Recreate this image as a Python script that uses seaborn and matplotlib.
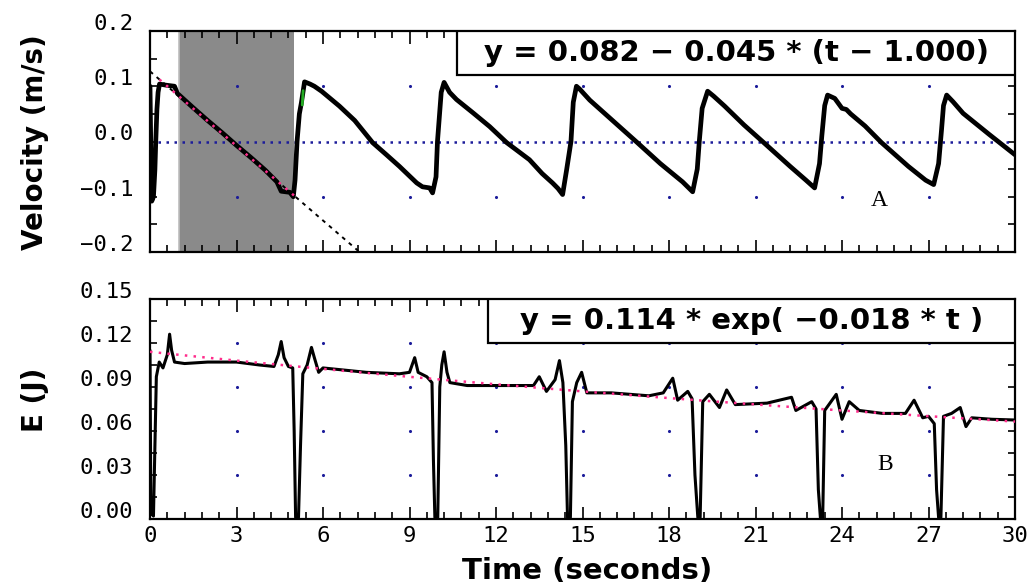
import numpy as np
import pandas as pd
import matplotlib
matplotlib.use("Agg")
import matplotlib.pyplot as plt
import matplotlib.transforms as mtransforms
from matplotlib.ticker import MultipleLocator, NullFormatter
from matplotlib.patches import Rectangle
import seaborn as sns

# ---------------- data ----------------
vel_t = [0.00, 0.03, 0.06, 0.12, 0.17, 0.20, 0.24, 0.28, 0.33, 0.55, 0.85, 0.95,
         1.50, 2.00, 2.50, 3.00, 3.50, 4.00, 4.40, 4.55, 4.85, 4.97,
         5.03, 5.10, 5.18, 5.25, 5.36, 5.55, 5.70, 5.95, 6.57, 7.10, 7.72, 8.20,
         8.65, 9.25, 9.45, 9.70, 9.80, 9.92, 9.97, 10.10, 10.20, 10.39, 10.63,
         11.20, 11.78, 12.37, 13.16, 13.60, 13.96, 14.15, 14.31, 14.45, 14.60,
         14.68, 14.79, 14.90, 15.25, 16.00, 16.90, 17.70, 18.47, 18.82, 18.98,
         19.05, 19.15, 19.34, 19.55, 19.93, 20.60, 21.35, 22.20, 22.75, 23.05,
         23.22, 23.30, 23.40, 23.50, 23.75, 24.00, 24.15, 24.30, 24.80, 25.37,
         26.30, 26.90, 27.18, 27.35, 27.45, 27.52, 27.63, 27.85, 28.20, 29.10, 30.00]
vel_v = [0.100, -0.020, -0.108, -0.100, -0.051, 0.000, 0.058, 0.089, 0.104, 0.102, 0.100, 0.087,
         0.061, 0.038, 0.016, -0.007, -0.029, -0.052, -0.073, -0.090, -0.092, -0.100,
         -0.070, 0.000, 0.050, 0.070, 0.108, 0.104, 0.100, 0.091, 0.064, 0.038, -0.002, -0.024,
         -0.045, -0.075, -0.082, -0.084, -0.093, -0.064, 0.000, 0.089, 0.107, 0.089, 0.076,
         0.052, 0.027, -0.002, -0.033, -0.058, -0.075, -0.085, -0.096, -0.051, 0.000,
         0.071, 0.100, 0.095, 0.075, 0.040, -0.002, -0.040, -0.073, -0.091, -0.050,
         0.000, 0.060, 0.091, 0.082, 0.064, 0.030, -0.005, -0.045, -0.070, -0.084,
         -0.040, 0.010, 0.065, 0.084, 0.078, 0.060, 0.058, 0.050, 0.028, -0.002,
         -0.045, -0.070, -0.078, -0.040, 0.020, 0.065, 0.084, 0.072, 0.051, 0.013, -0.024]

energy_t = [0.00, 0.03, 0.12, 0.22, 0.32, 0.45, 0.60, 0.68, 0.75, 0.85, 1.20, 2.00, 3.00,
            3.80, 4.30, 4.45, 4.55, 4.65, 4.80, 4.95, 5.00, 5.05, 5.15, 5.22, 5.30, 5.45,
            5.60, 5.70, 5.85, 6.00, 6.50, 7.50, 8.65, 9.00, 9.18, 9.30, 9.60, 9.78, 9.83,
            9.88, 9.98, 10.05, 10.12, 10.20, 10.30, 10.40, 11.00, 12.50, 13.30, 13.50,
            13.75, 14.05, 14.20, 14.32, 14.42, 14.48, 14.58, 14.65, 14.80, 14.97, 15.15,
            16.00, 17.30, 17.80, 18.13, 18.30, 18.65, 18.80, 18.90, 19.00, 19.08, 19.17,
            19.40, 19.75, 20.00, 20.30, 21.40, 22.25, 22.40, 22.95, 23.10, 23.18, 23.25,
            23.33, 23.40, 23.80, 24.00, 24.25, 24.60, 25.40, 26.20, 26.50, 26.80, 27.00,
            27.20, 27.28, 27.35, 27.43, 27.52, 27.80, 28.10, 28.30, 28.50, 29.20, 30.00]
energy_e = [0.115, 0.004, 0.002, 0.097, 0.107, 0.103, 0.112, 0.126, 0.115, 0.107, 0.106, 0.107, 0.107,
            0.105, 0.104, 0.112, 0.121, 0.110, 0.104, 0.103, 0.060, 0.001, 0.001, 0.050, 0.099, 0.105,
            0.117, 0.110, 0.100, 0.103, 0.102, 0.100, 0.099, 0.100, 0.110, 0.100, 0.097, 0.093, 0.040,
            0.001, 0.001, 0.090, 0.105, 0.114, 0.100, 0.093, 0.091, 0.091, 0.091, 0.097,
            0.087, 0.095, 0.108, 0.093, 0.050, 0.001, 0.001, 0.080, 0.093, 0.100, 0.086,
            0.086, 0.084, 0.086, 0.096, 0.081, 0.087, 0.082, 0.030, 0.001, 0.001, 0.080,
            0.085, 0.076, 0.088, 0.078, 0.079, 0.083, 0.074, 0.080, 0.075, 0.020, 0.001,
            0.001, 0.074, 0.085, 0.068, 0.080, 0.074, 0.072, 0.072, 0.081, 0.069, 0.070,
            0.065, 0.020, 0.001, 0.001, 0.070, 0.072, 0.076, 0.063, 0.069, 0.068, 0.0675]

# fit parameters shown in the boxes
lin_a, lin_b, lin_t0 = 0.082, 0.045, 1.000
exp_a, exp_k = 0.114, -0.018
fit_window = (1.0, 5.0)
fit_span = (0.33, 5.0)

time_ticks = [0, 3, 6, 9, 12, 15, 18, 21, 24, 27, 30]
time_labels = ["0", "3", "6", "9", "12", "15", "18", "21", "24", "27", "30"]
vel_ticks = [-0.2, -0.1, 0.0, 0.1, 0.2]
vel_labels = ["\u22120.2", "\u22120.1", "0.0", "0.1", "0.2"]
e_ticks = [0.00, 0.03, 0.06, 0.09, 0.12, 0.15]
e_labels = ["0.00", "0.03", "0.06", "0.09", "0.12", "0.15"]

eq_top = "y = 0.082 \u2212 0.045 * (t \u2212 1.000)"
eq_bottom = "y = 0.114 * exp( \u22120.018 * t )"

# ---------------- style ----------------
sns.set_theme(style="white")
plt.rcParams["font.family"] = ["DejaVu Sans"]
plt.rcParams["text.color"] = "black"
plt.rcParams["axes.labelcolor"] = "black"
plt.rcParams["xtick.color"] = "black"
plt.rcParams["ytick.color"] = "black"

NAVY = "#1c1c9a"
PINK = "#ff2d8c"
GRAY = "#8a8a8a"

fig = plt.figure(figsize=(10.28, 5.85), dpi=100)
W, H = 1028, 585
L, R = 150, 1015
ax1 = fig.add_axes([L / W, 1 - 252 / H, (R - L) / W, (252 - 31) / H])
ax2 = fig.add_axes([L / W, 1 - 519 / H, (R - L) / W, (519 - 299) / H])

vel_df = pd.DataFrame({"t": vel_t, "v": vel_v})
en_df = pd.DataFrame({"t": energy_t, "E": energy_e})

# ---- top panel ----
ax1.axvspan(*fit_window, color=GRAY, zorder=0, lw=0)
ax1.axvline(fit_window[0], color="#bdbdbd", lw=1.2, zorder=0.5)
ax1.axhline(0.0, color=NAVY, lw=1.8, ls=(0, (1, 2.2)), zorder=1)
gx, gy = np.meshgrid(time_ticks[1:-1], [vel_ticks[1], vel_ticks[3]])
ax1.scatter(gx.ravel(), gy.ravel(), s=5, color=NAVY, zorder=1, lw=0)

tl = np.array([0.0, 8.0])
ax1.plot(tl, lin_a - lin_b * (tl - lin_t0), color="black", lw=1.4,
         ls=(0, (2, 2.5)), zorder=2)
sns.lineplot(data=vel_df, x="t", y="v", sort=False, estimator=None,
             color="black", lw=3.4, ax=ax1, zorder=3)
ax1.plot([5.28, 5.31], [0.066, 0.092], color="#22aa22", lw=2, zorder=4)
tf = np.array(fit_span)
ax1.plot(tf, lin_a - lin_b * (tf - lin_t0), color=PINK, lw=1.8,
         ls=(0, (1, 2.5)), zorder=4)
ax1.text(25.3, -0.107, "A", fontsize=17, family="Liberation Serif",
         ha="center", va="center", zorder=5)

ax1.set_xlim(0, 30)
ax1.set_ylim(-0.2, 0.2)
box1 = Rectangle((0.355, 0.80), 0.645, 0.20, transform=ax1.transAxes,
                 facecolor="white", edgecolor="black", lw=1.6, zorder=6)
ax1.add_patch(box1)
ax1.text(0.6775, 0.90, eq_top, transform=ax1.transAxes, ha="center", va="center",
         fontsize=21, fontweight="bold", zorder=7)

# ---- bottom panel ----
gx2, gy2 = np.meshgrid(time_ticks[1:-1], e_ticks[1:-1])
ax2.scatter(gx2.ravel(), gy2.ravel(), s=5, color=NAVY, zorder=1, lw=0)
sns.lineplot(data=en_df, x="t", y="E", sort=False, estimator=None,
             color="black", lw=2.2, ax=ax2, zorder=3)
te = np.linspace(0, 30, 121)
ax2.plot(te, exp_a * np.exp(exp_k * te), color=PINK, lw=1.8,
         ls=(0, (1, 2.5)), zorder=4)
ax2.text(25.5, 0.037, "B", fontsize=17, family="Liberation Serif",
         ha="center", va="center", zorder=5)
ax2.set_xlim(0, 30)
ax2.set_ylim(0, 0.15)
box2 = Rectangle((0.391, 0.80), 0.609, 0.20, transform=ax2.transAxes,
                 facecolor="white", edgecolor="black", lw=1.6, zorder=6)
ax2.add_patch(box2)
ax2.text(0.6955, 0.90, eq_bottom, transform=ax2.transAxes, ha="center", va="center",
         fontsize=21, fontweight="bold", zorder=7)

# ---- axes styling ----
mono = "DejaVu Sans Mono"
for ax, yt, yl, ymin in ((ax1, vel_ticks, vel_labels, 0.05), (ax2, e_ticks, e_labels, 0.015)):
    for s in ax.spines.values():
        s.set_visible(True)
        s.set_color("black")
        s.set_linewidth(1.6)
    ax.set_xticks(time_ticks)
    ax.xaxis.set_minor_locator(MultipleLocator(0.6))
    ax.set_yticks(yt)
    ax.yaxis.set_minor_locator(MultipleLocator(ymin))
    ax.set_yticklabels(yl, family=mono, fontsize=16, color="black")
    ax.tick_params(axis="both", which="both", direction="in", top=True, right=True,
                   left=True, bottom=True, color="black", width=1.2)
    ax.tick_params(axis="both", which="minor", length=5)
    ax.tick_params(axis="both", which="major", length=5)
    ax.tick_params(axis="x", which="major", bottom=True, length=9)
    ax.tick_params(axis="y", which="major", pad=12)
    ax.set_xlabel("")
    ax.set_ylabel("")
    offset = mtransforms.ScaledTranslation(0, 0.09, fig.dpi_scale_trans)
    for lab in ax.get_yticklabels():
        lab.set_transform(lab.get_transform() + offset)
    for tk in ax.xaxis.get_major_ticks() + ax.xaxis.get_minor_ticks():
        tk.tick1line.set_color(NAVY)

ax1.xaxis.set_major_formatter(NullFormatter())
ax2.set_xticklabels(time_labels, family=mono, fontsize=16, color="black")
ax2.tick_params(axis="x", which="major", pad=5)

fig.text(35 / W, 1 - 142 / H, "Velocity (m/s)", rotation=90, ha="center", va="center",
         fontsize=20, fontweight="bold")
fig.text(35 / W, 1 - 400 / H, "E (J)", rotation=90, ha="center", va="center",
         fontsize=20, fontweight="bold")
fig.text(587 / W, 1 - 571 / H, "Time (seconds)", ha="center", va="center",
         fontsize=21, fontweight="bold")

fig.savefig("out.png", dpi=100, facecolor="white")
